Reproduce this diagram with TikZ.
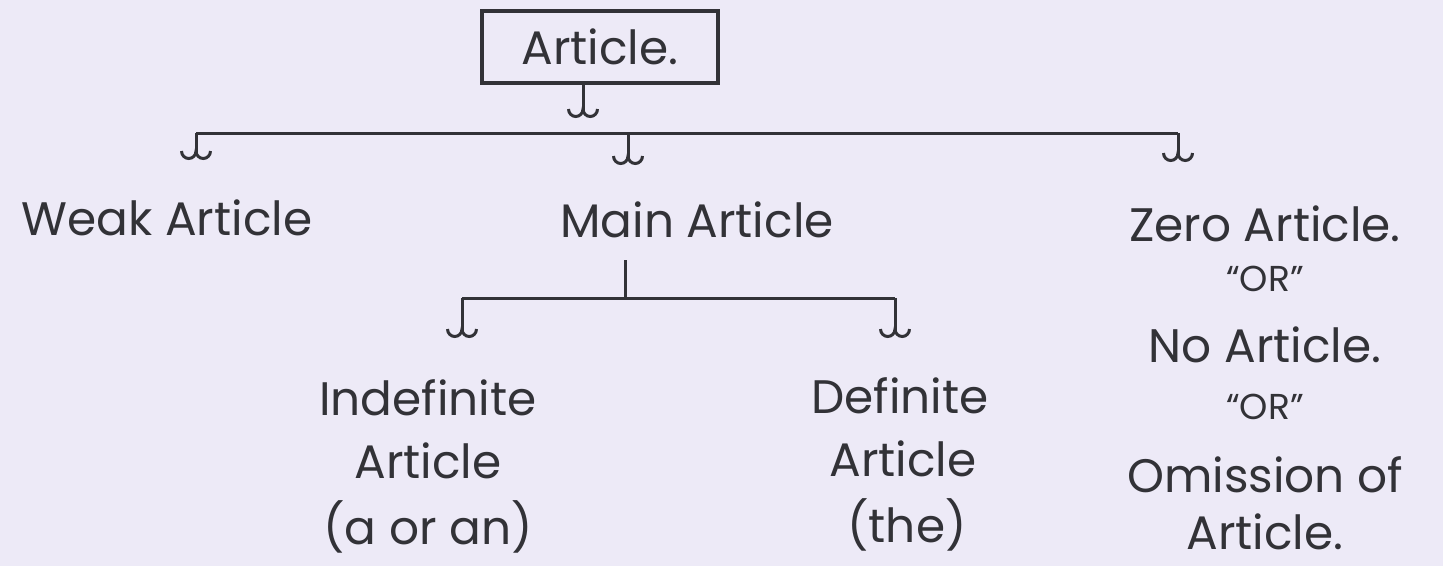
\documentclass[tikz,border=0pt]{standalone}
\usepackage{fontspec}
\setmainfont{Poppins}
\usetikzlibrary{arrows.meta}
\definecolor{paper}{RGB}{237,234,247}
\definecolor{ink}{RGB}{50,50,55}
\begin{document}
\begin{tikzpicture}[x=1pt,y=-1pt,
  ink/.style={draw=ink,line width=3pt},
  hookarrow/.style={ink,-{Hooks[width=32pt,length=9pt]}},
  lbl/.style={text=ink,inner sep=0pt,font=\fontsize{47}{56}\selectfont},
  orlbl/.style={text=ink,inner sep=0pt,font=\fontsize{36}{42}\selectfont}]
\fill[paper] (0,0) rectangle (1443,566);
\useasboundingbox (0,0) rectangle (1443,566);
% root
\node[lbl,draw=ink,line width=4pt,minimum width=236pt,minimum height=72pt] (article) at (600,47) {Article.};
\coordinate (topend) at (583,118);
\draw[hookarrow] ([xshift=-17pt]article.south) -- (topend);
% main bar
\coordinate (hl) at (196,133);
\coordinate (hm) at (628,133);
\coordinate (hr) at (1178,133);
\draw[ink] (hl) -- (hr);
\coordinate (el) at (196,160);
\coordinate (em) at (628,165);
\coordinate (er) at (1178,162);
\draw[hookarrow] (hl) -- (el);
\draw[hookarrow] (hm) -- (em);
\draw[hookarrow] (hr) -- (er);
% level 1
\node[lbl] (weak) at (167,218) {Weak Article};
\node[lbl] (main) at (697,220) {Main Article};
\node[lbl] (zero1) at (1265,224) {Zero Article.};
\node[orlbl] (zero2) at (1265,279) {``OR''};
\node[lbl] (zero3) at (1265,345) {No Article.};
\node[orlbl] (zero4) at (1265,407) {``OR''};
\node[lbl] (zero5) at (1265,475) {Omission of};
\node[lbl] (zero6) at (1265,532) {Article.};
% main article branch
\coordinate (ms) at (625,260);
\coordinate (mb) at (625,298);
\coordinate (bl) at (462,298);
\coordinate (br) at (895,298);
\draw[ink] (ms) -- (mb);
\draw[ink] (bl) -- (br);
\coordinate (ble) at (462,338);
\coordinate (bre) at (895,338);
\draw[hookarrow] (bl) -- (ble);
\draw[hookarrow] (br) -- (bre);
% level 2
\node[lbl] (ind1) at (428,398) {Indefinite};
\node[lbl] (ind2) at (428,461) {Article};
\node[lbl] (ind3) at (428,527) {(a or an)};
\node[lbl] (def1) at (900,396) {Definite};
\node[lbl] (def2) at (903,459) {Article};
\node[lbl] (def3) at (907,525) {(the)};
\end{tikzpicture}
\end{document}
